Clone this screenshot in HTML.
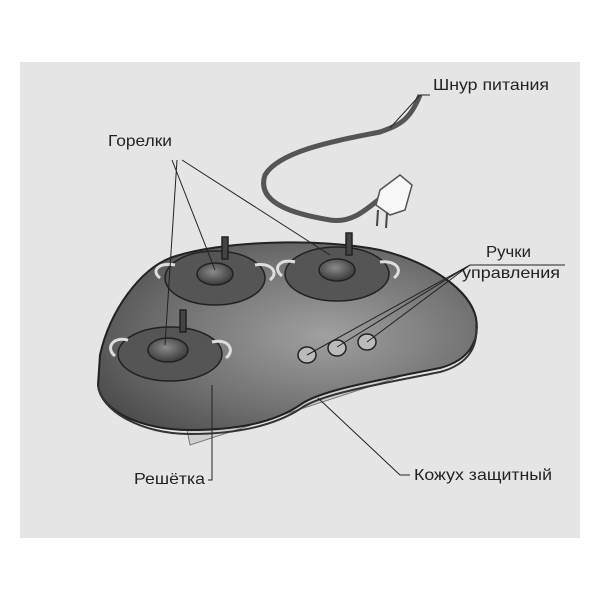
<!DOCTYPE html>
<html><head><meta charset="utf-8"><style>
body{margin:0;background:#fff;width:600px;height:600px;overflow:hidden}
svg{display:block}
text{font-family:"Liberation Sans",sans-serif;font-size:16px;fill:#222}
</style></head><body>
<svg width="600" height="600" viewBox="0 0 600 600">
<defs>
<radialGradient id="g" cx="0.6" cy="0.5" r="0.7">
<stop offset="0" stop-color="#a0a0a0"/><stop offset="0.6" stop-color="#707070"/><stop offset="1" stop-color="#4a4a4a"/>
</radialGradient>
<radialGradient id="b" cx="0.45" cy="0.4" r="0.6"><stop offset="0" stop-color="#8a8a8a"/><stop offset="1" stop-color="#3a3a3a"/></radialGradient>
</defs>
<rect x="20" y="62" width="560" height="476" fill="#e5e5e5"/>
<path d="M420 95 C410 120,400 125,380 132 C340 140,280 150,265 175 C255 205,300 215,330 220 C355 224,370 205,385 195" fill="none" stroke="#555" stroke-width="5"/>
<path d="M380 190 L400 175 L412 185 L405 210 L390 215 L376 205 Z" fill="#f8f8f8" stroke="#555" stroke-width="1.5"/>
<line x1="378" y1="210" x2="377" y2="226" stroke="#444" stroke-width="2"/>
<line x1="387" y1="213" x2="386" y2="228" stroke="#444" stroke-width="2"/>
<path d="M185 420 L190 445 L445 362 L455 355 Z" fill="#cfcfcf" stroke="#777"/>
<path d="M100 355 C110 310,140 270,170 258 C220 240,320 238,380 250 C430 262,470 290,476 318 C480 340,470 360,440 368 C380 380,320 390,300 405 C270 425,230 430,190 430 C140 430,100 410,98 385 Z" fill="url(#g)" stroke="#222" stroke-width="2"/>
<path d="M98 385 C100 410,140 434,190 434 C230 434,270 428,300 409 C320 394,380 384,440 372 C470 364,478 345,476 325" fill="none" stroke="#333" stroke-width="2"/>
<g stroke="#222" stroke-width="1.5">
<ellipse cx="215" cy="278" rx="50" ry="27" fill="#555"/>
<ellipse cx="215" cy="274" rx="18" ry="11" fill="url(#b)"/>
<path d="M175 265 C160 262,150 270,160 278 M255 265 C270 262,280 272,270 280" fill="none" stroke="#ddd" stroke-width="3"/>
<rect x="222" y="237" width="6" height="22" fill="#444"/>
<ellipse cx="337" cy="274" rx="52" ry="27" fill="#555"/>
<ellipse cx="337" cy="270" rx="18" ry="11" fill="url(#b)"/>
<path d="M295 262 C280 258,272 268,282 276 M380 262 C396 260,404 270,394 278" fill="none" stroke="#ddd" stroke-width="3"/>
<rect x="346" y="233" width="6" height="22" fill="#444"/>
<ellipse cx="170" cy="354" rx="52" ry="27" fill="#555"/>
<ellipse cx="168" cy="350" rx="20" ry="12" fill="url(#b)"/>
<path d="M128 340 C113 336,105 348,115 356 M212 342 C228 338,236 350,226 358" fill="none" stroke="#ddd" stroke-width="3"/>
<rect x="180" y="310" width="6" height="22" fill="#444"/>
<ellipse cx="307" cy="355" rx="9" ry="8" fill="#bbb"/>
<ellipse cx="337" cy="348" rx="9" ry="8" fill="#bbb"/>
<ellipse cx="367" cy="342" rx="9" ry="8" fill="#bbb"/>
</g>
<g stroke="#222" stroke-width="1" fill="none">
<path d="M172 160 L215 270 M177 160 L165 345 M182 160 L330 255"/>
<path d="M430 95 L420 95 L390 128"/>
<path d="M565 265 L470 265 L307 355 M470 265 L337 347 M470 265 L367 342"/>
<path d="M212 385 L212 480 L208 480"/>
<path d="M318 398 L400 475 L410 475"/>
</g>
<text x="433" y="90" textLength="116" lengthAdjust="spacingAndGlyphs">Шнур питания</text>
<text x="108" y="146" textLength="64" lengthAdjust="spacingAndGlyphs">Горелки</text>
<text x="486" y="257" textLength="45" lengthAdjust="spacingAndGlyphs">Ручки</text>
<text x="462" y="278" textLength="98" lengthAdjust="spacingAndGlyphs">управления</text>
<text x="134" y="484" textLength="71" lengthAdjust="spacingAndGlyphs">Решётка</text>
<text x="414" y="480" textLength="138" lengthAdjust="spacingAndGlyphs">Кожух защитный</text>
</svg>
</body></html>
